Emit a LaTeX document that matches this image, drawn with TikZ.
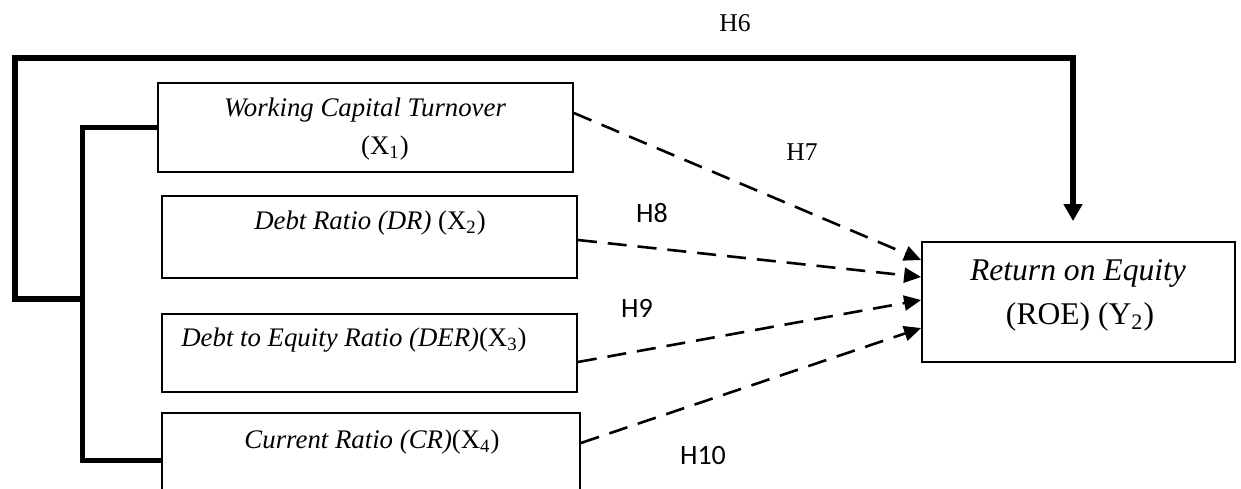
\documentclass[tikz,border=0pt]{standalone}
\usepackage{fontspec}
\setmainfont{Liberation Serif}
\newfontfamily\hsans{Carlito}
\usetikzlibrary{arrows.meta}
\begin{document}
\begin{tikzpicture}[x=0.5pt,y=-0.5pt,
  varbox/.style={draw, line width=0.9pt, inner sep=0pt, anchor=center},
  boxtext/.style={font=\fontsize{13.4}{16}\selectfont, inner sep=0pt, anchor=center},
  roetext/.style={font=\fontsize{15.8}{18}\selectfont, inner sep=0pt, anchor=center},
  hser/.style={font=\fontsize{12.8}{15}\selectfont, inner sep=0pt, anchor=center},
  hsan/.style={font=\hsans\fontsize{14}{16}\selectfont, inner sep=0pt, anchor=center},
  bracket/.style={line width=2.5pt},
  mainlink/.style={line width=3pt, -{Triangle[width=9pt,length=8.5pt]}},
  dashlink/.style={line width=1.3pt, dash pattern=on 9.5pt off 5.5pt, -{Triangle[width=7.5pt,length=8.5pt]}}
]
\clip (0,0) rectangle (1241,488);
\fill[white] (0,0) rectangle (1241,488);

% boxes
\node[varbox, minimum width=207.5pt, minimum height=44.5pt] (b1) at (365.5,127.5) {};
\node[varbox, minimum width=207.5pt, minimum height=41pt] (b2) at (369.5,237) {};
\node[varbox, minimum width=207.5pt, minimum height=39pt] (b3) at (369.5,353) {};
\node[varbox, minimum width=209pt, minimum height=41.5pt] (b4) at (371,454.5) {};
\node[varbox, minimum width=156.5pt, minimum height=60pt] (roe) at (1078.5,302) {};

% texts
\node[boxtext] (t1a) at (365,110) {\textit{Working Capital Turnover}};
\node[boxtext] (t1b) at (385,148) {(X\textsubscript{1})};
\node[boxtext] (t2) at (370,223) {\textit{Debt Ratio (DR)} (X\textsubscript{2})};
\node[boxtext] (t3) at (354,340) {\textit{Debt to Equity Ratio (DER)}(X\textsubscript{3})};
\node[boxtext] (t4) at (372,442) {\textit{Current Ratio (CR)}(X\textsubscript{4})};
\node[roetext] (r1) at (1078,273) {\textit{Return on Equity}};
\node[roetext] (r2) at (1080,317) {(ROE) (Y\textsubscript{2})};

% hypothesis labels
\node[hser] (h6) at (735,23) {H6};
\node[hser] (h7) at (802,152) {H7};
\node[hsan] (h8) at (652,213) {H8};
\node[hsan] (h9) at (637,308) {H9};
\node[hsan] (h10) at (703,455) {H10};

% inner bracket joining X1..X4
\draw[bracket] (b1.west) -| (82,460) -- ([yshift=-2.75pt]b4.west);
\coordinate (m) at (82,299);
% H6 path
\draw[mainlink] (m) -| (15,58) -| ([xshift=-2.75pt,yshift=10pt]roe.north);

% dashed arrows
\draw[dashlink] ([yshift=7.25pt]b1.east) -- ([yshift=21pt]roe.west);
\draw[dashlink] ([yshift=-1.5pt]b2.east) -- ([yshift=12.5pt]roe.west);
\draw[dashlink] ([yshift=-4.5pt]b3.east) -- ([yshift=1pt]roe.west);
\draw[dashlink] ([yshift=5.75pt]b4.east) -- ([yshift=-13pt]roe.west);
\end{tikzpicture}
\end{document}
